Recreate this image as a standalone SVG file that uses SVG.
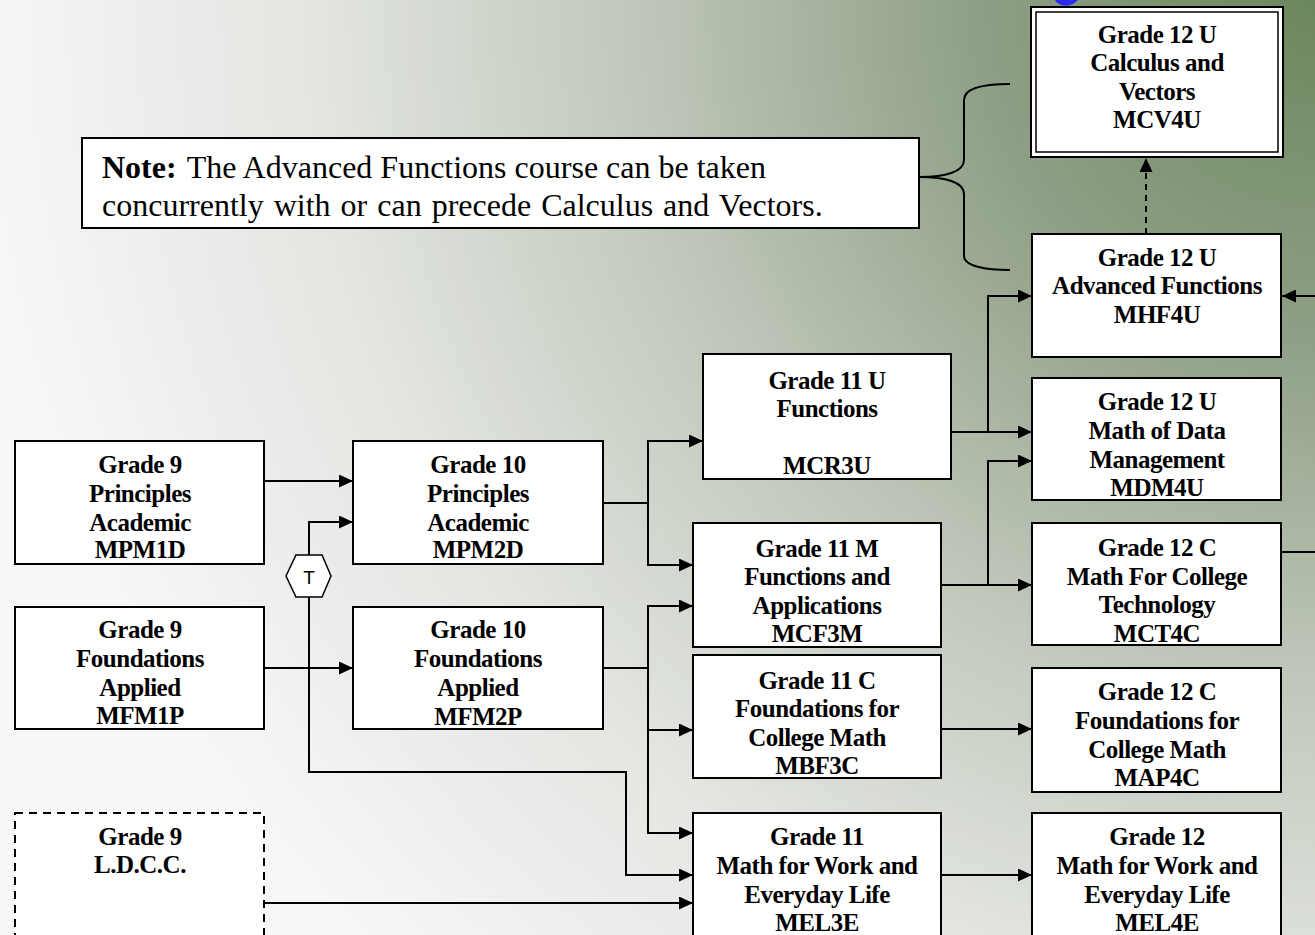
<svg xmlns="http://www.w3.org/2000/svg" width="1315" height="935" viewBox="0 0 1315 935">
<defs>
<radialGradient id="bg" gradientUnits="userSpaceOnUse" cx="1315" cy="0" r="1350">
<stop offset="0" stop-color="#6b875c"/>
<stop offset="0.25" stop-color="#8f9f86"/>
<stop offset="0.5" stop-color="#bfc7ba"/>
<stop offset="0.75" stop-color="#e4e6e2"/>
<stop offset="1" stop-color="#f7f7f7"/>
</radialGradient>
<marker id="ah" markerUnits="userSpaceOnUse" markerWidth="15" markerHeight="13" refX="14" refY="6.5" orient="auto">
<path d="M0,0 L14,6.5 L0,13 z" fill="#000"/>
</marker>
<style>
.box{fill:#fff;stroke:#000;stroke-width:2}
.dash{fill:#fff;stroke:#000;stroke-width:2;stroke-dasharray:8,6}
.t{font-family:"Liberation Serif","Times New Roman",serif;font-weight:bold;font-size:25px;letter-spacing:-0.5px;text-anchor:middle;fill:#000}
.c{fill:none;stroke:#000;stroke-width:2}
.a{fill:none;stroke:#000;stroke-width:2;marker-end:url(#ah)}
.note{font-family:"Liberation Serif","Times New Roman",serif;font-size:32px;fill:#000}
</style>
</defs>
<rect x="0" y="0" width="1315" height="935" fill="url(#bg)"/>
<path d="M1055,0 C1058,6 1070,9 1078,0 Z" fill="#2a2af0"/>

<g id="connectors">
<path class="a" d="M264,481 H353"/>
<path class="a" d="M264,668 H353"/>
<path class="a" d="M309,555 V522 H353"/>
<path class="a" d="M309,597 V772 H626 V875 H693"/>
<path class="a" d="M264,903 H693"/>
<path class="c" d="M603,503 H648"/>
<path class="a" d="M648,503 V441 H703"/>
<path class="a" d="M648,503 V565 H693"/>
<path class="c" d="M603,668 H648"/>
<path class="a" d="M648,668 V606 H693"/>
<path class="a" d="M648,668 V833 H693"/>
<path class="a" d="M648,730 H693"/>
<path class="a" d="M951,432 H1032"/>
<path class="a" d="M988,432 V296 H1032"/>
<path class="a" d="M941,585 H1032"/>
<path class="a" d="M988,585 V461 H1032"/>
<path class="a" d="M941,729 H1032"/>
<path class="a" d="M941,875 H1032"/>
<path class="a" d="M1146,234 V158" stroke-dasharray="6,5"/>
<path class="a" d="M1315,296 H1282"/>
<path class="c" d="M1281,552 H1315"/>
<path class="c" d="M1010,84 C985,84 964,88 964,100 L964,160 C964,172 945,177 920,177 C945,177 964,182 964,194 L964,256 C964,266 985,270 1010,270"/>
</g>

<g id="note">
<rect x="82" y="138" width="837" height="90" class="box"/>
<text class="note" x="102" y="178"><tspan font-weight="bold">Note:</tspan><tspan dx="10">The Advanced Functions course can be taken</tspan></text>
<text class="note" x="102" y="216" word-spacing="2">concurrently with or can precede Calculus and Vectors.</text>
</g>

<g id="T">
<polygon points="286,576 296,555 322,555 331,576 322,597 296,597" fill="#fff" stroke="#000" stroke-width="1.5"/>
<text x="309" y="584" font-family="Liberation Sans, Arial, sans-serif" font-size="19" text-anchor="middle">T</text>
</g>

<g id="MCV4U">
<rect x="1031" y="7" width="252" height="150" class="box"/>
<rect x="1036" y="12" width="242" height="140" fill="none" stroke="#000" stroke-width="1.5"/>
<text class="t" x="1157" y="43">Grade 12 U</text>
<text class="t" x="1157" y="71">Calculus and</text>
<text class="t" x="1157" y="100">Vectors</text>
<text class="t" x="1157" y="128">MCV4U</text>
</g>

<g id="MHF4U">
<rect x="1032" y="234" width="249" height="123" class="box"/>
<text class="t" x="1157" y="266">Grade 12 U</text>
<text class="t" x="1157" y="294">Advanced Functions</text>
<text class="t" x="1157" y="323">MHF4U</text>
</g>

<g id="MDM4U">
<rect x="1032" y="378" width="249" height="122" class="box"/>
<text class="t" x="1157" y="410">Grade 12 U</text>
<text class="t" x="1157" y="439">Math of Data</text>
<text class="t" x="1157" y="468">Management</text>
<text class="t" x="1157" y="496">MDM4U</text>
</g>

<g id="MCT4C">
<rect x="1032" y="523" width="249" height="122" class="box"/>
<text class="t" x="1157" y="556">Grade 12 C</text>
<text class="t" x="1157" y="585">Math For College</text>
<text class="t" x="1157" y="613">Technology</text>
<text class="t" x="1157" y="642">MCT4C</text>
</g>

<g id="MAP4C">
<rect x="1032" y="668" width="249" height="124" class="box"/>
<text class="t" x="1157" y="700">Grade 12 C</text>
<text class="t" x="1157" y="729">Foundations for</text>
<text class="t" x="1157" y="758">College Math</text>
<text class="t" x="1157" y="786">MAP4C</text>
</g>

<g id="MEL4E">
<rect x="1032" y="813" width="249" height="130" class="box"/>
<text class="t" x="1157" y="845">Grade 12</text>
<text class="t" x="1157" y="874">Math for Work and</text>
<text class="t" x="1157" y="903">Everyday Life</text>
<text class="t" x="1157" y="931">MEL4E</text>
</g>

<g id="MCR3U">
<rect x="703" y="354" width="248" height="125" class="box"/>
<text class="t" x="827" y="389">Grade 11 U</text>
<text class="t" x="827" y="417">Functions</text>
<text class="t" x="827" y="474">MCR3U</text>
</g>

<g id="MCF3M">
<rect x="693" y="523" width="248" height="124" class="box"/>
<text class="t" x="817" y="557">Grade 11 M</text>
<text class="t" x="817" y="585">Functions and</text>
<text class="t" x="817" y="614">Applications</text>
<text class="t" x="817" y="642">MCF3M</text>
</g>

<g id="MBF3C">
<rect x="693" y="655" width="248" height="123" class="box"/>
<text class="t" x="817" y="689">Grade 11 C</text>
<text class="t" x="817" y="717">Foundations for</text>
<text class="t" x="817" y="746">College Math</text>
<text class="t" x="817" y="774">MBF3C</text>
</g>

<g id="MEL3E">
<rect x="693" y="813" width="248" height="130" class="box"/>
<text class="t" x="817" y="845">Grade 11</text>
<text class="t" x="817" y="874">Math for Work and</text>
<text class="t" x="817" y="903">Everyday Life</text>
<text class="t" x="817" y="931">MEL3E</text>
</g>

<g id="MPM2D">
<rect x="353" y="441" width="250" height="123" class="box"/>
<text class="t" x="478" y="473">Grade 10</text>
<text class="t" x="478" y="502">Principles</text>
<text class="t" x="478" y="531">Academic</text>
<text class="t" x="478" y="558">MPM2D</text>
</g>

<g id="MFM2P">
<rect x="353" y="607" width="250" height="122" class="box"/>
<text class="t" x="478" y="638">Grade 10</text>
<text class="t" x="478" y="667">Foundations</text>
<text class="t" x="478" y="696">Applied</text>
<text class="t" x="478" y="725">MFM2P</text>
</g>

<g id="MPM1D">
<rect x="15" y="441" width="249" height="123" class="box"/>
<text class="t" x="140" y="473">Grade 9</text>
<text class="t" x="140" y="502">Principles</text>
<text class="t" x="140" y="531">Academic</text>
<text class="t" x="140" y="558">MPM1D</text>
</g>

<g id="MFM1P">
<rect x="15" y="607" width="249" height="122" class="box"/>
<text class="t" x="140" y="638">Grade 9</text>
<text class="t" x="140" y="667">Foundations</text>
<text class="t" x="140" y="696">Applied</text>
<text class="t" x="140" y="724">MFM1P</text>
</g>

<g id="LDCCC">
<rect x="15" y="813" width="249" height="130" class="dash"/>
<text class="t" x="140" y="845">Grade 9</text>
<text class="t" x="140" y="873">L.D.C.C.</text>
</g>
</svg>
